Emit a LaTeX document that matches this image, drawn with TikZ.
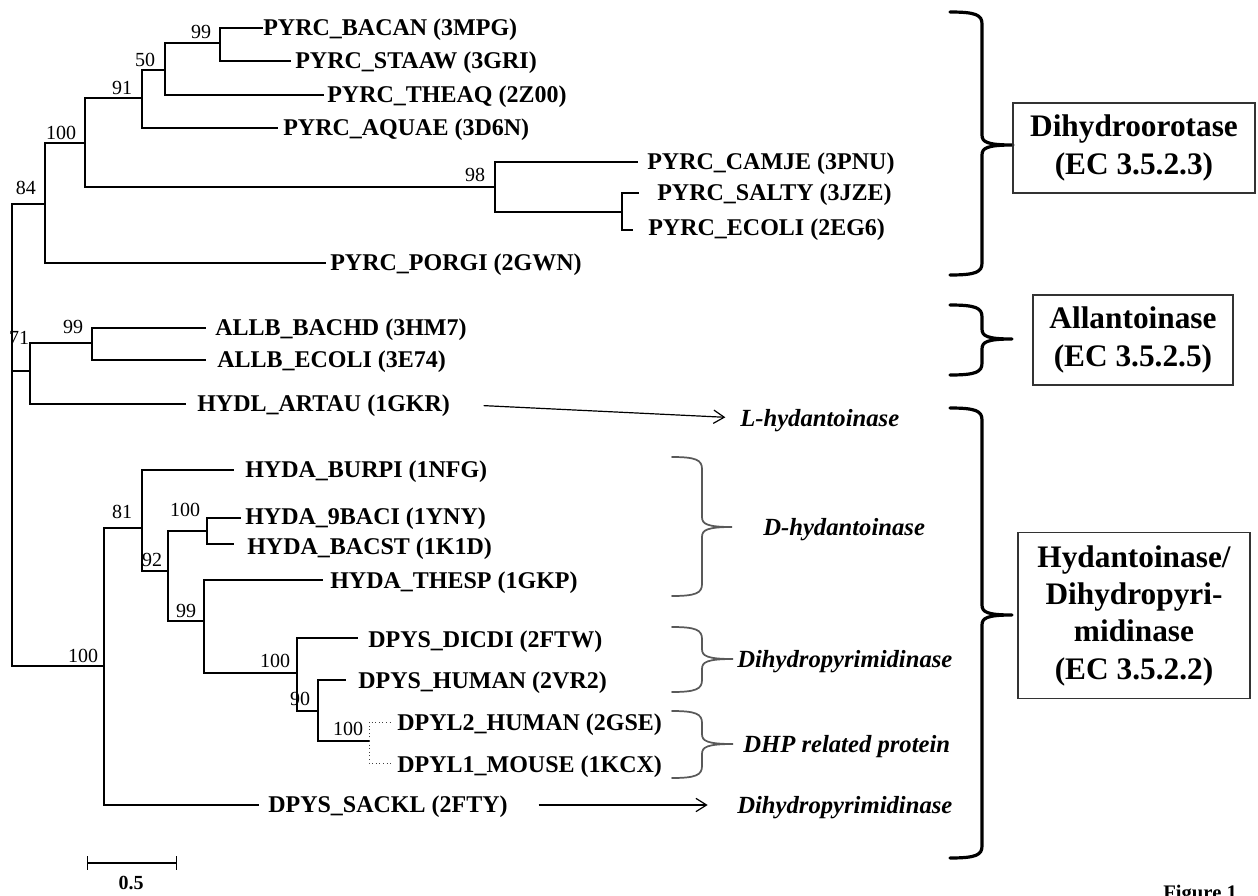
\documentclass[tikz,border=0pt]{standalone}
\usepackage{fontspec}
\setmainfont{Liberation Serif}
\usetikzlibrary{arrows.meta}

% curly brace opening to the right: style, x of hooks, x of spine, x of tip, y top, y tip, y bottom
\newcommand\drawbrace[7]{%
  \draw[#1] (#2,#5) .. controls ({#3-6},#5) and (#3,{#5+3}) .. (#3,{#5+12})
    -- (#3,{#6-10}) .. controls (#3,{#6-3}) and ({#3+5},#6) .. (#4,#6)
    .. controls ({#3+5},#6) and (#3,{#6+3}) .. (#3,{#6+10})
    -- (#3,{#7-12}) .. controls (#3,{#7-3}) and ({#3-6},#7) .. (#2,#7);}

\begin{document}
\begin{tikzpicture}[x=0.75pt,y=-0.75pt,
  thinbranch/.style={line width=0.9pt, line cap=rect},
  thickbranch/.style={line width=2pt, line cap=rect},
  dotbranch/.style={line width=0.7pt, dotted, black!75},
  leaf/.style={anchor=west, inner sep=0pt, font=\fontsize{18}{20}\selectfont\bfseries, text height=11.9pt, text depth=0pt},
  boot/.style={inner sep=0pt, font=\fontsize{15}{17}\selectfont, text height=10.1pt, text depth=0pt},
  clade/.style={anchor=west, inner sep=0pt, font=\fontsize{18.5}{20}\selectfont\bfseries\itshape, text height=12.2pt, text depth=0pt},
  ecbox/.style={draw=black!80, line width=0.9pt, align=center, inner sep=0pt, font=\fontsize{23.5}{28}\selectfont\bfseries},
  bigbrace/.style={line width=2.4pt, line cap=round, line join=round},
  smallbrace/.style={line width=1.3pt, black!65, line cap=round},
  pointer/.style={line width=0.9pt, -{Straight Barb[length=8pt,width=10pt]}},
]
\useasboundingbox (0,0) rectangle (1258,896);

% ---------- internal nodes of the tree ----------
\coordinate (root)  at (12,371);
\coordinate (n84)   at (45,204);
\coordinate (n100a) at (85,143);
\coordinate (n91)   at (142,98);
\coordinate (n50)   at (165,70);
\coordinate (n99a)  at (220,43);
\coordinate (n98)   at (495,187);
\coordinate (nSE)   at (622,212);
\coordinate (n71)   at (30,371);
\coordinate (n99b)  at (92,343);
\coordinate (n100r) at (104,666);
\coordinate (n81)   at (142,528);
\coordinate (n92)   at (168,571);
\coordinate (n100c) at (207,531);
\coordinate (n99c)  at (204,621);
\coordinate (n100d) at (297,673);
\coordinate (n90)   at (318,711);
\coordinate (n100e) at (369,741);

% ---------- branch tips ----------
\coordinate (eBACAN) at (262,28);
\coordinate (eSTAAW) at (290,61);
\coordinate (eTHEAQ) at (323,95);
\coordinate (eAQUAE) at (277,128);
\coordinate (eCAMJE) at (637,162);
\coordinate (eSALTY) at (638,193);
\coordinate (eECOLI) at (632,230);
\coordinate (ePORGI) at (325,263);
\coordinate (eBACHD) at (205,328);
\coordinate (eALLBE) at (205,360);
\coordinate (eARTAU) at (185,404);
\coordinate (eBURPI) at (233,470);
\coordinate (e9BACI) at (240,518);
\coordinate (eBACST) at (233,544);
\coordinate (eTHESP) at (322,580);
\coordinate (eDICDI) at (357,638);
\coordinate (eHUMAN) at (345,680);
\coordinate (eDPYL2) at (392,722);
\coordinate (eDPYL1) at (392,763);
\coordinate (eSACKL) at (258,805);

% ---------- branches ----------
\draw[thinbranch] (root) |- (n84);
\draw[thinbranch] (root) |- (n71);
\draw[thinbranch] (root) |- (n100r);

\draw[thickbranch] (n84) |- (n100a);
\draw[thickbranch] (n84) |- (ePORGI);
\draw[thickbranch] (n100a) |- (n91);
\draw[thickbranch] (n100a) |- (n98);
\draw[thickbranch] (n91) |- (n50);
\draw[thickbranch] (n91) |- (eAQUAE);
\draw[thickbranch] (n50) |- (n99a);
\draw[thickbranch] (n50) |- (eTHEAQ);
\draw[thickbranch] (n99a) |- (eBACAN);
\draw[thickbranch] (n99a) |- (eSTAAW);
\draw[thickbranch] (n98) |- (eCAMJE);
\draw[thickbranch] (n98) |- (nSE);
\draw[thickbranch] (nSE) |- (eSALTY);
\draw[thickbranch] (nSE) |- (eECOLI);

\draw[thinbranch] (n71) |- (n99b);
\draw[thinbranch] (n71) |- (eARTAU);
\draw[thinbranch] (n99b) |- (eBACHD);
\draw[thinbranch] (n99b) |- (eALLBE);

\draw[thinbranch] (n100r) |- (n81);
\draw[thinbranch] (n100r) |- (eSACKL);
\draw[thinbranch] (n81) |- (eBURPI);
\draw[thinbranch] (n81) |- (n92);
\draw[thinbranch] (n92) |- (n100c);
\draw[thinbranch] (n92) |- (n99c);
\draw[thinbranch] (n100c) |- (e9BACI);
\draw[thinbranch] (n100c) |- (eBACST);
\draw[thinbranch] (n99c) |- (eTHESP);
\draw[thinbranch] (n99c) |- (n100d);
\draw[thinbranch] (n100d) |- (eDICDI);
\draw[thinbranch] (n100d) |- (n90);
\draw[thinbranch] (n90) |- (eHUMAN);
\draw[thinbranch] (n90) |- (n100e);
\draw[dotbranch] (n100e) |- (eDPYL2);
\draw[dotbranch] (n100e) |- (eDPYL1);

% ---------- bootstrap values ----------
\node[boot] (b84)   at (26,188)  {84};
\node[boot] (b100a) at (61,133)  {100};
\node[boot] (b91)   at (122,88)  {91};
\node[boot] (b50)   at (145,60)  {50};
\node[boot] (b99a)  at (201,32)  {99};
\node[boot] (b98)   at (475,175) {98};
\node[boot] (b71)   at (19,338)  {71};
\node[boot] (b99b)  at (73,327)  {99};
\node[boot] (b81)   at (122,512) {81};
\node[boot] (b100c) at (185,510) {100};
\node[boot] (b92)   at (152,560) {92};
\node[boot] (b99c)  at (186,611) {99};
\node[boot] (b100r) at (83,656)  {100};
\node[boot] (b100d) at (275,661) {100};
\node[boot] (b90)   at (300,699) {90};
\node[boot] (b100e) at (348,729) {100};

% ---------- taxon labels ----------
\node[leaf] (lBACAN) at (263,28)  {PYRC\_BACAN (3MPG)};
\node[leaf] (lSTAAW) at (295,61)  {PYRC\_STAAW (3GRI)};
\node[leaf] (lTHEAQ) at (327,95)  {PYRC\_THEAQ (2Z00)};
\node[leaf] (lAQUAE) at (283,128) {PYRC\_AQUAE (3D6N)};
\node[leaf] (lCAMJE) at (647,162) {PYRC\_CAMJE (3PNU)};
\node[leaf] (lSALTY) at (657,193) {PYRC\_SALTY (3JZE)};
\node[leaf] (lECOLI) at (648,228) {PYRC\_ECOLI (2EG6)};
\node[leaf] (lPORGI) at (330,263) {PYRC\_PORGI (2GWN)};
\node[leaf] (lBACHD) at (215,328) {ALLB\_BACHD (3HM7)};
\node[leaf] (lALLBE) at (217,360) {ALLB\_ECOLI (3E74)};
\node[leaf] (lARTAU) at (197,404) {HYDL\_ARTAU (1GKR)};
\node[leaf] (lBURPI) at (245,470) {HYDA\_BURPI (1NFG)};
\node[leaf] (l9BACI) at (245,517) {HYDA\_9BACI (1YNY)};
\node[leaf] (lBACST) at (247,547) {HYDA\_BACST (1K1D)};
\node[leaf] (lTHESP) at (330,581) {HYDA\_THESP (1GKP)};
\node[leaf] (lDICDI) at (368,640) {DPYS\_DICDI (2FTW)};
\node[leaf] (lHUMAN) at (358,681) {DPYS\_HUMAN (2VR2)};
\node[leaf] (lDPYL2) at (397,723) {DPYL2\_HUMAN (2GSE)};
\node[leaf] (lDPYL1) at (397,765) {DPYL1\_MOUSE (1KCX)};
\node[leaf] (lSACKL) at (268,805) {DPYS\_SACKL (2FTY)};

% ---------- sub-family labels ----------
\node[clade] (cLhyd) at (740,418) {L-hydantoinase};
\node[clade] (cDhyd) at (763,527) {D-hydantoinase};
\node[clade] (cDHPa) at (737,659) {Dihydropyrimidinase};
\node[clade] (cDHPr) at (743,744) {DHP related protein};
\node[clade] (cDHPb) at (737,805) {Dihydropyrimidinase};

\drawbrace{smallbrace}{672}{702}{732}{457}{527}{596}
\drawbrace{smallbrace}{672}{702}{733}{627}{659}{692}
\drawbrace{smallbrace}{672}{702}{733}{711}{744}{778}

\draw[pointer, shorten <=25pt, shorten >=11pt] (lARTAU.east) -- (cLhyd.west);
\draw[pointer, shorten <=23pt, shorten >=22pt] (lSACKL.east) -- (cDHPb.west);

% ---------- enzyme classes ----------
\drawbrace{bigbrace}{950}{982}{1013}{12}{145}{275}
\drawbrace{bigbrace}{950}{982}{1012}{305}{339}{375}
\drawbrace{bigbrace}{950}{982}{1012}{408}{615}{858}

\node[ecbox, minimum width=181.5pt, minimum height=67.5pt] (ecDHO) at (1134,148) {Dihydroorotase\\(EC 3.5.2.3)};
\node[ecbox, minimum width=150pt, minimum height=67.5pt] (ecALL) at (1133,340) {Allantoinase\\(EC 3.5.2.5)};
\node[ecbox, minimum width=174pt, minimum height=125pt] (ecHYD) at (1134,615.5) {Hydantoinase/\\Dihydropyri-\\midinase\\(EC 3.5.2.2)};

% ---------- scale bar ----------
\coordinate (sbL) at (87,863);
\coordinate (sbR) at (177,863);
\draw[line width=0.9pt, {Bar[width=10pt]}-{Bar[width=10pt]}] (sbL) -- (sbR);
\node[boot, font=\fontsize{15}{17}\selectfont\bfseries] (sbT) at (131,883) {0.5};

\node[anchor=base west, inner sep=0pt, font=\fontsize{15.5}{17}\selectfont\bfseries] (fig) at (1163,899) {Figure 1};
\end{tikzpicture}
\end{document}
